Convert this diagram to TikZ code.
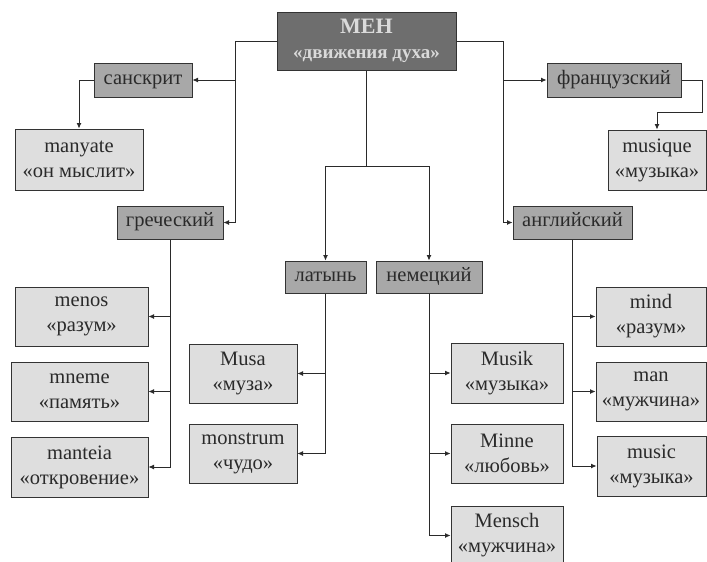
\documentclass[tikz,border=0pt]{standalone}
\usepackage{fontspec}
\setmainfont{Liberation Serif}
\usetikzlibrary{arrows.meta}
\definecolor{mainfill}{HTML}{6E6E6E}
\definecolor{maintext}{HTML}{DADADA}
\definecolor{langfill}{HTML}{A8A8A8}
\definecolor{leaffill}{HTML}{DEDEDE}
\definecolor{edgecol}{HTML}{333333}
\definecolor{linecol}{HTML}{2A2A2A}
\definecolor{txtcol}{HTML}{2A2A2A}
\tikzset{
  box/.style={draw=edgecol, line width=1pt, rectangle, inner sep=0pt, align=center,
    font=\fontsize{20.5}{25}\selectfont, text=txtcol},
  mainbox/.style={box, fill=mainfill, text=maintext, font=\bfseries\fontsize{19}{25}\selectfont},
  langbox/.style={box, fill=langfill, text height=11pt, text depth=3pt},
  leafbox/.style={box, fill=leaffill},
  conn/.style={draw=linecol, line width=0.85pt},
  arr/.style={conn, -{Latex[length=5.5pt,width=5pt]}}
}
\begin{document}
\begin{tikzpicture}[x=1pt,y=-1pt]
\useasboundingbox (0,0) rectangle (707,562);
% main
\node[mainbox, minimum width=179, minimum height=58] (men) at (366.5,41) {\fontsize{22}{25}\selectfont МЕН\\«движения духа»};
% languages
\node[langbox, minimum width=98, minimum height=34] (sk) at (143,80) {санскрит};
\node[langbox, minimum width=134, minimum height=34] (fr) at (614,80) {французский};
\node[langbox, minimum width=106, minimum height=33] (gr) at (170,222.5) {греческий};
\node[langbox, minimum width=119, minimum height=33] (en) at (572.5,222.5) {английский};
\node[langbox, minimum width=81, minimum height=32] (la) at (325.5,277) {латынь};
\node[langbox, minimum width=106, minimum height=32] (de) at (429,277) {немецкий};
% leaves
\node[leafbox, minimum width=128, minimum height=61] (my) at (79,159.5) {manyate\\«он мыслит»};
\node[leafbox, minimum width=98, minimum height=60] (mq) at (657,160) {musique\\«музыка»};
\node[leafbox, minimum width=133, minimum height=59] (menos) at (81.5,316.5) {menos\\«разум»};
\node[leafbox, minimum width=137, minimum height=59] (mneme) at (79.5,391.5) {mneme\\«память»};
\node[leafbox, minimum width=137, minimum height=60] (mant) at (79.5,467) {manteia\\«откровение»};
\node[leafbox, minimum width=108, minimum height=59] (musa) at (243,373.5) {Musa\\«муза»};
\node[leafbox, minimum width=108, minimum height=59] (mons) at (243,453.5) {monstrum\\«чудо»};
\node[leafbox, minimum width=112, minimum height=60] (musik) at (507,373) {Musik\\«музыка»};
\node[leafbox, minimum width=112, minimum height=59] (minne) at (507,453.5) {Minne\\«любовь»};
\node[leafbox, minimum width=112, minimum height=59] (mensch) at (507,535.5) {Mensch\\«мужчина»};
\node[leafbox, minimum width=110, minimum height=59] (mind) at (651,316.5) {mind\\«разум»};
\node[leafbox, minimum width=110, minimum height=59] (man) at (651,391.5) {man\\«мужчина»};
\node[leafbox, minimum width=109, minimum height=60] (music) at (651.5,466) {music\\«музыка»};
% helper coordinates
\coordinate (gx) at (235,0);
\coordinate (ex) at (503,0);
\coordinate (split) at (0,166);
\coordinate (fb) at (702,112);
% left trunk
\draw[conn] (men.west) -- (men.west -| gx);
\draw[arr] (men.west -| gx) |- (gr.east);
\draw[arr] (gx |- sk.east) -- (sk.east);
\draw[arr] (sk.west) -| (my.north);
% right trunk
\draw[conn] (men.east) -- (men.east -| ex);
\draw[arr] (men.east -| ex) |- (en.west);
\draw[arr] (ex |- fr.west) -- (fr.west);
\draw[arr] (fr.east) -| (fb) -| (mq.north);
% centre trunk
\draw[conn] (men.south) -- (men.south |- split);
\draw[arr] (men.south |- split) -| (la.north);
\draw[arr] (men.south |- split) -| (de.north);
% greek
\draw[arr] (gr.south) |- (mant.east);
\draw[arr] (gr.south |- menos.east) -- (menos.east);
\draw[arr] (gr.south |- mneme.east) -- (mneme.east);
% latin
\draw[arr] (la.south) |- (mons.east);
\draw[arr] (la.south |- musa.east) -- (musa.east);
% german
\draw[arr] (de.south) |- (mensch.west);
\draw[arr] (de.south |- musik.west) -- (musik.west);
\draw[arr] (de.south |- minne.west) -- (minne.west);
% english
\draw[arr] (en.south) |- (music.west);
\draw[arr] (en.south |- mind.west) -- (mind.west);
\draw[arr] (en.south |- man.west) -- (man.west);
\end{tikzpicture}
\end{document}
